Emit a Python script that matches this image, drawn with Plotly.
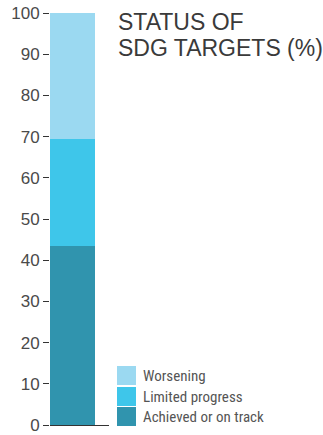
import plotly.graph_objects as go

# Data
categories = ["SDG targets"]
series_names = ["Achieved or on track", "Limited progress", "Worsening"]
achieved = [43.5]
limited = [25.9]
worsening = [30.6]
series_values = [achieved, limited, worsening]
colors = ["#3094ae", "#3ec6ea", "#9bd9f1"]
title_lines = ["STATUS OF", "SDG TARGETS (%)"]
y_ticks = list(range(0, 101, 10))

W, H = 323, 435
L, R, T, B = 50, 214, 13, 10
PW = W - L - R
PH = H - T - B

def px_x(px):
    return (px - L) / PW

def px_y(py):
    return (H - B - py) / PH

fig = go.Figure()
for name, vals, col in zip(series_names, series_values, colors):
    fig.add_trace(go.Bar(
        x=categories, y=vals, name=name, width=1,
        marker=dict(color=col, line=dict(width=0)),
        showlegend=False, hoverinfo="name+y",
    ))

# custom legend (top to bottom: reversed order)
legend_font = dict(family="Roboto Condensed, Liberation Sans, sans-serif",
                   size=15, color="#555555")
row_tops = [366, 387, 407]
for i, (name, col) in enumerate(zip(series_names[::-1], colors[::-1])):
    top = row_tops[i]
    fig.add_shape(type="rect", xref="paper", yref="paper",
                  x0=px_x(117), x1=px_x(136), y0=px_y(top + 19), y1=px_y(top),
                  fillcolor=col, line=dict(width=0))
    fig.add_annotation(xref="paper", yref="paper", x=px_x(141), y=px_y(top + 9.5),
                       text=name, showarrow=False, xanchor="left", yanchor="middle",
                       font=legend_font)

title_font = dict(family="Liberation Sans, Arial, Helvetica, sans-serif", size=23, color="#3a3a3a")
for i, line in enumerate(title_lines):
    fig.add_annotation(xref="paper", yref="paper", x=px_x(116), y=px_y(7 + 26 * i),
                       text=line, showarrow=False, xanchor="left", yanchor="top",
                       font=title_font)

fig.update_layout(
    width=W, height=H,
    margin=dict(l=L, r=R, t=T, b=B, pad=0, autoexpand=False),
    barmode="stack",
    plot_bgcolor="white", paper_bgcolor="white",
    bargap=0,
    xaxis=dict(type="category", range=[-0.5, -0.5 + PW / 45], showticklabels=False,
               ticks="", showgrid=False, zeroline=False, showline=True,
               linecolor="#333333", linewidth=1, fixedrange=True, automargin=False),
    yaxis=dict(range=[0, 100], tickvals=y_ticks, ticks="outside", ticklen=6,
               tickcolor="#333333", tickwidth=1, showgrid=False, zeroline=False,
               showline=False, fixedrange=True, ticklabeloverflow="allow",
               automargin=False,
               tickfont=dict(family="Liberation Sans, Arial, Helvetica, sans-serif",
                             size=17, color="#4a4a4a")),
)

fig.write_html("out.html", config={"displayModeBar": False},
               post_script="document.body.style.margin='0';")
